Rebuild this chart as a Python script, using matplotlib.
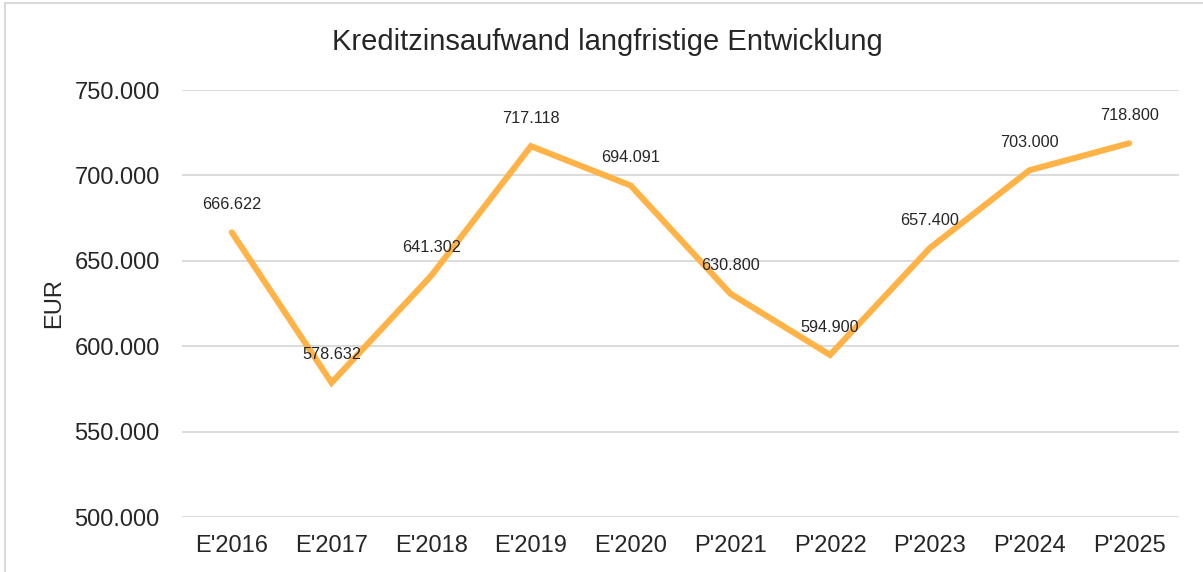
import matplotlib.pyplot as plt
from matplotlib.ticker import FuncFormatter
from matplotlib.patches import Rectangle

plt.rcParams['font.family'] = ['Liberation Sans', 'DejaVu Sans']

years = ["E'2016", "E'2017", "E'2018", "E'2019", "E'2020",
         "P'2021", "P'2022", "P'2023", "P'2024", "P'2025"]
values = [666622, 578632, 641302, 717118, 694091,
          630800, 594900, 657400, 703000, 718800]
yticks = [500000, 550000, 600000, 650000, 700000, 750000]


def de_format(v, pos=None):
    # German thousands separator
    return f'{int(round(v)):,}'.replace(',', '.')


fig = plt.figure(figsize=(12.03, 5.72), dpi=100)
ax = fig.add_axes([182 / 1203, 1 - 517 / 572, (1179 - 182) / 1203, (517 - 90) / 572])

# light frame around the chart
fig.patches.append(Rectangle((5 / 1203, -0.05), 1.1, 1 - 3 / 572 + 0.05,
                             transform=fig.transFigure, fill=False,
                             edgecolor='#d9d9d9', linewidth=1.5))

x = list(range(len(years)))
ax.plot(x, values, color='#FFB347', linewidth=4.4, solid_joinstyle='miter',
        solid_capstyle='round', zorder=3)

for xi, v in zip(x, values):
    ax.annotate(de_format(v), (xi, v), xytext=(0, 20), textcoords='offset points',
                ha='center', va='center', fontsize=11.7, color='#262626')

ax.set_xlim(-0.5, len(years) - 0.5)
ax.set_ylim(500000, 750000)
ax.set_yticks(yticks)
ax.yaxis.set_major_formatter(FuncFormatter(de_format))
ax.set_xticks(x)
ax.set_xticklabels(years)
ax.tick_params(axis='both', length=0, labelsize=17, colors='#262626')
ax.tick_params(axis='y', pad=16)
ax.tick_params(axis='x', pad=13)
ax.grid(axis='y', color='#d9d9d9', linewidth=1.3)
ax.set_axisbelow(True)
for s in ax.spines.values():
    s.set_visible(False)

ax.set_ylabel('EUR', fontsize=17, color='#262626', labelpad=7)
fig.text(607 / 1203, 1 - 42 / 572, 'Kreditzinsaufwand langfristige Entwicklung',
         ha='center', va='center', fontsize=21, color='#262626')

fig.savefig('out.png', dpi=100)
